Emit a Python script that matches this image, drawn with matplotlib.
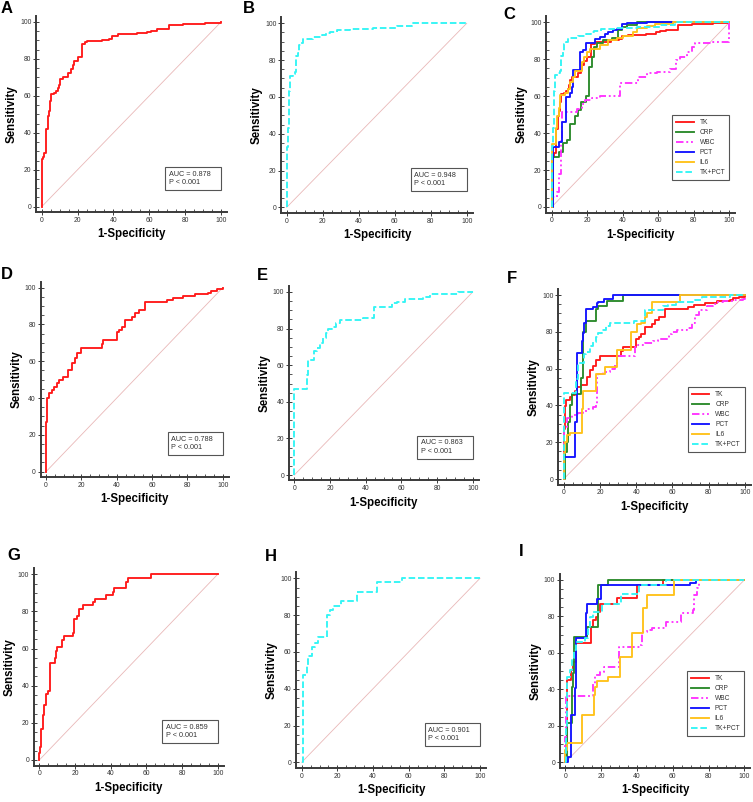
import numpy as np
import matplotlib.pyplot as plt
from matplotlib.patches import Rectangle

plt.rcParams['font.family'] = ['Liberation Sans', 'DejaVu Sans']

# ---- ROC curve points (1-specificity, sensitivity) ----
# row 1
tk_a_x = [0, 0.6, 1.3, 2.2, 3.3, 4.1, 4.6, 5.2, 7.1, 8, 8.9, 9.7, 10.2, 11.7, 14.9, 16.4, 17.3,
          18, 20.1, 22.3, 24.2, 25.5, 33.5, 37.7, 39.4, 42.8, 53, 58.6, 60.8, 64.1, 71, 79, 91, 100]
tk_a_y = [25.6, 27, 29, 42, 49, 52, 57, 61, 61.5, 62.6, 64, 66, 69, 70.4, 72.6, 74.7, 76.7,
          79, 81, 88, 89.3, 89.5, 90.2, 91, 92.4, 93.3, 93.9, 94.8, 95.3, 96, 98.4, 98.9, 99.5, 100]

tkpct_b_x = [0, 0.4, 0.6, 1.5, 1.9, 3.3, 4.6, 5.0, 6.1, 7.0, 8.0, 9.3, 14.8, 19.4, 21.9, 24,
             27.8, 35.2, 48, 61, 69.4, 100]
tkpct_b_y = [0, 33, 43, 63, 71.5, 72.5, 73.5, 82, 84, 88, 89.5, 91.5, 92.5, 93.5, 94.6, 95.3,
             96.4, 97, 97.6, 98.4, 100, 100]

crp_c_x = [0, 0.9, 0.9, 4.3, 6.6, 8.4, 10.3, 13.1, 15, 16.5, 19.3, 21.2, 22.5, 24, 25.3, 29,
           33.8, 37.5, 39.4, 42.2, 47.8, 100]
crp_c_y = [0, 13.7, 27, 30, 34.5, 36.3, 45, 49, 52.5, 57, 60, 76, 81.4, 86.8, 88.6, 90.4,
           91.3, 95.8, 97.3, 98.6, 100, 100]

wbc_c_x = [0, 0.4, 3.2, 4.3, 5.3, 5.6, 14, 16.9, 18.8, 22.5, 27.2, 38.5, 48.8, 53.5, 59.1,
           66.6, 69.8, 72.2, 76, 78.8, 80.7, 91, 100, 100]
wbc_c_y = [0, 5.6, 8.3, 18, 36, 51.6, 53, 56, 58, 59, 60, 67.3, 70.6, 72.4, 73.3,
           74.7, 79.6, 81, 84, 86.8, 89, 89.5, 90.4, 100]

pct_c_x = [0, 0.9, 4, 6, 8, 10.3, 11.3, 12.2, 16, 17.8, 19.3, 24.4, 27.2, 30, 31.9, 34.7,
           37, 39.4, 42.2, 53.5, 100]
pct_c_y = [0, 32.7, 35.4, 46, 59.7, 61.5, 65, 74, 84, 85, 88.6, 90.8, 92.2, 93.5, 94.8, 95.9,
           96.4, 99, 99.8, 100, 100]

il6_c_x = [0, 0.4, 2.4, 3.2, 3.9, 4.7, 7.5, 9.4, 10.3, 11.8, 13.1, 16.9, 18.2, 20, 21.6,
           27.2, 31.9, 36.6, 40.3, 46, 47.8, 53.5, 58, 68.5, 100]
il6_c_y = [0, 34, 42.6, 49, 53.4, 60.6, 61.5, 64, 67.7, 70.2, 73.6, 78.7, 81, 84, 85.7,
           87.7, 90.4, 91.3, 92.6, 94.9, 96.8, 98, 99, 100, 100]

# row 2
tk_d_x = [0, 0, 0.6, 1.5, 3.2, 4.5, 6, 7.5, 9.4, 12.6, 14.5, 16.4, 17.7, 19.8, 31.5, 32.5,
          40, 41.5, 42.8, 44.7, 48.5, 50.4, 52.8, 56, 68.3, 72, 77.7, 84.3, 91.9, 93.2, 96.8, 100]
tk_d_y = [0, 27.2, 39.9, 42.9, 44.4, 45.8, 48, 49.8, 51.3, 55.3, 59.2, 61.6, 64.7, 67, 69.4, 71.6,
          76.1, 77, 78.8, 82.4, 84.2, 86.4, 87.9, 92.4, 93.3, 94.6, 95.5, 96.6, 97.3, 98.4, 99.1, 100]

tkpct_e_x = [0, 0, 6.9, 7.9, 11.2, 12.5, 14.4, 15.9, 17.6, 19.1, 20.9, 23.4, 25.6, 38.7,
             44.7, 54.6, 57.4, 62.1, 72.3, 76.1, 92, 100]
tkpct_e_y = [0, 47, 54.6, 62.8, 67.9, 69.2, 72.3, 74.7, 77.4, 79.6, 81.1, 82.9, 84.7, 85.6,
             91.6, 93.8, 94.7, 96, 97.4, 98.7, 100, 100]

crp_f_x = [0, 0.7, 1.7, 2.6, 3.5, 4.4, 9.6, 10.8, 12.3, 17.6, 18.8, 24.1, 32.5, 100]
crp_f_y = [0, 14.9, 20, 31, 40, 46, 55, 80, 86, 92.2, 94, 97, 100, 100]

wbc_f_x = [0, 0.4, 1.7, 4.4, 8.1, 10.8, 13, 16.4, 17.6, 18.2, 19.1, 21.9, 25.6, 28.3, 29.6,
           39.3, 41.2, 44.9, 49.4, 52.2, 58.1, 59.6, 62.3, 67.8, 70.6, 72.4, 74.8, 78.9, 82.5,
           84.4, 88, 93.6, 99, 100]
wbc_f_y = [0, 28.4, 33, 35, 36, 37, 38, 39, 41, 55, 57, 58, 60, 62, 67,
           72, 73, 74, 75, 76, 79, 80, 81, 82, 85, 89, 92, 94, 95,
           96, 97, 97.5, 98, 100]

pct_f_x = [0, 0.4, 6.3, 7.2, 9.9, 10.8, 11.4, 12.1, 16.4, 18.2, 19.1, 22.2, 27.4, 100]
pct_f_y = [0, 12.1, 31, 68.3, 75.2, 79.2, 84.6, 92.2, 93.3, 95.5, 96.4, 98, 100, 100]

il6_f_x = [0, 0, 0.7, 1.7, 3.5, 9.9, 10.8, 17.6, 22.8, 29.6, 36.9, 40.6, 42.5, 44.9, 45.8,
           48.5, 64.2, 100]
il6_f_y = [0, 14, 20, 24, 25, 38, 48, 57, 61, 70, 80, 84, 85, 88, 90,
           96, 100, 100]

# row 3
tk_g_x = [0, 0, 0.6, 1.1, 2.2, 2.8, 3.7, 5, 6, 8.8, 9.3, 10.1, 12.5, 13.8, 18.7, 19.4, 20.9,
          22.2, 24.7, 29.9, 31.2, 37.4, 41.1, 42.1, 48.6, 49.9, 62.4, 100]
tk_g_y = [0, 3.6, 7.2, 16.7, 24.2, 29.6, 35.5, 37.2, 52.1, 54.8, 58.9, 61, 64.6, 66.8, 68.6, 75.8, 77.7,
          81.1, 83.5, 85.3, 86.9, 88.9, 90.7, 92.5, 96.1, 98.2, 100, 100]

tkpct_h_x = [0, 0.9, 0.9, 2.8, 3.7, 6, 7.5, 9.3, 14, 15.9, 17.8, 21.9, 30.8, 42.1, 56.1, 100]
tkpct_h_y = [0, 43, 47.5, 52.5, 57.8, 62.9, 65, 67.9, 80, 82.8, 85, 87.9, 92.8, 97.8, 100, 100]

tk_i_x = [0, 0.4, 1.1, 3, 4.1, 6, 14.2, 15.6, 17.1, 18.4, 19.4, 28.7, 39.9, 54.7, 100]
tk_i_y = [0, 9.5, 45.2, 50.6, 55.2, 65.5, 74.4, 78, 79.5, 82.6, 86.8, 90, 97.3, 100, 100]

crp_i_x = [0, 0.4, 0.7, 3.5, 4.5, 4.8, 12.3, 18.1, 24, 100]
crp_i_y = [0, 3, 21.4, 41.5, 48.8, 68.5, 74.4, 97.3, 100, 100]

wbc_i_x = [0, 0, 0.4, 15.6, 16.6, 19.4, 21.6, 30, 41.7, 42.6, 45.4, 48.2, 56, 64.4, 71.1,
           71.9, 73.4, 74.5, 100]
wbc_i_y = [0, 14, 36.6, 43, 47.9, 49.7, 52.1, 63.1, 64.4, 71.7, 72.6, 73.5, 77.1, 81.7, 83.5,
           91.8, 95.4, 100, 100]

pct_i_x = [0, 1.7, 3, 5.4, 6, 11.4, 12.3, 17.9, 19.7, 69.6, 73, 100]
pct_i_y = [0, 3.1, 26, 40.6, 68, 81.7, 86.8, 89.4, 97.3, 98.5, 100, 100]

il6_i_x = [0, 0, 0.7, 9.1, 16, 16.6, 17.5, 24, 30.5, 37.4, 43.2, 45.4, 60.9, 100]
il6_i_y = [0, 6.8, 10.4, 26, 36.9, 41.5, 44.8, 47, 58, 70.7, 84.5, 91.8, 100, 100]

tkpct_i_x = [0, 0.4, 0.7, 2.6, 3.5, 4.8, 6, 11, 12.8, 13.8, 15.6, 20.3, 30.9, 41.3, 56, 100]
tkpct_i_y = [0, 20, 47, 50.6, 57, 61.6, 66.2, 68, 73.5, 79.5, 82.6, 86.8, 92.3, 97.3, 100, 100]

auc_labels = {'A': '0.878', 'B': '0.948', 'D': '0.788', 'E': '0.863', 'G': '0.859', 'H': '0.901'}
marker_names = ['TK', 'CRP', 'WBC', 'PCT', 'IL6', 'TK+PCT']

# line styles for each marker
styles = {
    'TK': dict(color='#ff1a1a', ls='-'),
    'CRP': dict(color='#2b8a2b', ls='-'),
    'WBC': dict(color='#ff33ff', ls=(0, (4, 1.5, 1, 1.5, 1, 1.5))),
    'PCT': dict(color='#1414ff', ls='-'),
    'IL6': dict(color='#ffc21a', ls='-'),
    'TK+PCT': dict(color='#33f5f5', ls=(0, (3.5, 1.5))),
}

W, H = 753, 802
fig = plt.figure(figsize=(W / 100, H / 100), dpi=100)
LIM = (-3, 103.3)


def make_axes(x0, x100, y100, y0):
    # pixel positions of data 0 and 100 -> axes box
    sx = (x100 - x0) / 100
    sy = (y0 - y100) / 100
    left = x0 + LIM[0] * sx
    right = x0 + LIM[1] * sx
    bottom = y0 - LIM[0] * sy
    top = y0 - LIM[1] * sy
    ax = fig.add_axes([left / W, 1 - bottom / H, (right - left) / W, (bottom - top) / H])
    ax.set_xlim(LIM)
    ax.set_ylim(LIM)
    for s in ['top', 'right']:
        ax.spines[s].set_visible(False)
    for s in ['left', 'bottom']:
        ax.spines[s].set_linewidth(1.4)
        ax.spines[s].set_color('#3a3a3a')
    ax.set_xticks(np.arange(0, 101, 20))
    ax.set_yticks(np.arange(0, 101, 20))
    ax.set_xticks(np.arange(0, 101, 5), minor=True)
    ax.set_yticks(np.arange(0, 101, 5), minor=True)
    ax.tick_params(which='major', direction='inout', length=4, width=0.7, color='#3a3a3a',
                   labelsize=4.9, labelcolor='#333333', pad=1.5)
    ax.tick_params(which='minor', direction='in', length=2.2, width=0.6, color='#3a3a3a')
    ax.set_xlabel('1-Specificity', fontsize=8.3, fontweight='bold', labelpad=3)
    ax.set_ylabel('Sensitivity', fontsize=8.3, fontweight='bold', labelpad=1.5)
    ax.plot([0, 100], [0, 100], color='#e9b8b8', lw=0.6, zorder=1)
    return ax


def draw(ax, name, x, y):
    st = styles[name]
    ax.plot(x, y, drawstyle='steps-post', color=st['color'], ls=st['ls'], lw=1.35, label=name,
            zorder=3)


def auc_box(ax, auc):
    ax.add_patch(Rectangle((69, 9), 31, 12.5, fill=True, fc='white', ec='#555555', lw=0.8,
                           zorder=4))
    ax.text(71, 15.3, 'AUC = ' + auc + '\nP < 0.001', fontsize=5.2, va='center', ha='left',
            color='#333333', linespacing=1.25, zorder=5)


def legend(ax):
    ax.legend(loc='lower right', bbox_to_anchor=(100, 14.5), bbox_transform=ax.transData,
              fontsize=4.8, handlelength=2.6, handletextpad=0.9, labelspacing=0.45,
              borderpad=0.6, borderaxespad=0, fancybox=False, edgecolor='#555555',
              framealpha=1, labelcolor='#333333').get_frame().set_linewidth(0.8)


layout = {
    'A': (41.7, 221, 22, 206.7),
    'B': (286.7, 466.7, 23.3, 207.3),
    'C': (551.7, 729.3, 22.3, 207),
    'D': (46, 222.7, 287.7, 471.7),
    'E': (294.3, 472.7, 292, 475),
    'F': (563.7, 745, 295, 479),
    'G': (39.3, 217.7, 574.3, 760),
    'H': (301.7, 480, 578.3, 762.3),
    'I': (565.3, 744.3, 580, 762.3),
}
letter_pos = {'A': (1, 1), 'B': (243, 1), 'C': (503, 7), 'D': (1, 267), 'E': (257, 268),
              'F': (507, 271), 'G': (7, 548), 'H': (265, 549), 'I': (519, 544)}

single = {
    'A': ('TK', tk_a_x, tk_a_y),
    'B': ('TK+PCT', tkpct_b_x, tkpct_b_y),
    'D': ('TK', tk_d_x, tk_d_y),
    'E': ('TK+PCT', tkpct_e_x, tkpct_e_y),
    'G': ('TK', tk_g_x, tk_g_y),
    'H': ('TK+PCT', tkpct_h_x, tkpct_h_y),
}
multi = {
    'C': [(tk_a_x, tk_a_y), (crp_c_x, crp_c_y), (wbc_c_x, wbc_c_y), (pct_c_x, pct_c_y),
          (il6_c_x, il6_c_y), (tkpct_b_x, tkpct_b_y)],
    'F': [(tk_d_x, tk_d_y), (crp_f_x, crp_f_y), (wbc_f_x, wbc_f_y), (pct_f_x, pct_f_y),
          (il6_f_x, il6_f_y), (tkpct_e_x, tkpct_e_y)],
    'I': [(tk_i_x, tk_i_y), (crp_i_x, crp_i_y), (wbc_i_x, wbc_i_y), (pct_i_x, pct_i_y),
          (il6_i_x, il6_i_y), (tkpct_i_x, tkpct_i_y)],
}

for key, pos in layout.items():
    ax = make_axes(*pos)
    if key in single:
        name, x, y = single[key]
        xs, ys = list(x), list(y)
        if xs[0] != 0 or ys[0] != 0:
            xs, ys = [0] + xs, [0] + ys
        draw(ax, name, xs, ys)
        auc_box(ax, auc_labels[key])
    else:
        for name, (x, y) in zip(marker_names, multi[key]):
            xs, ys = list(x), list(y)
            if xs[0] != 0 or ys[0] != 0:
                xs, ys = [0] + xs, [0] + ys
            draw(ax, name, xs, ys)
        legend(ax)
    lx, ly = letter_pos[key]
    fig.text(lx / W, 1 - ly / H, key, fontsize=12, fontweight='bold', va='top', ha='left')

fig.savefig('out.png', dpi=100)
